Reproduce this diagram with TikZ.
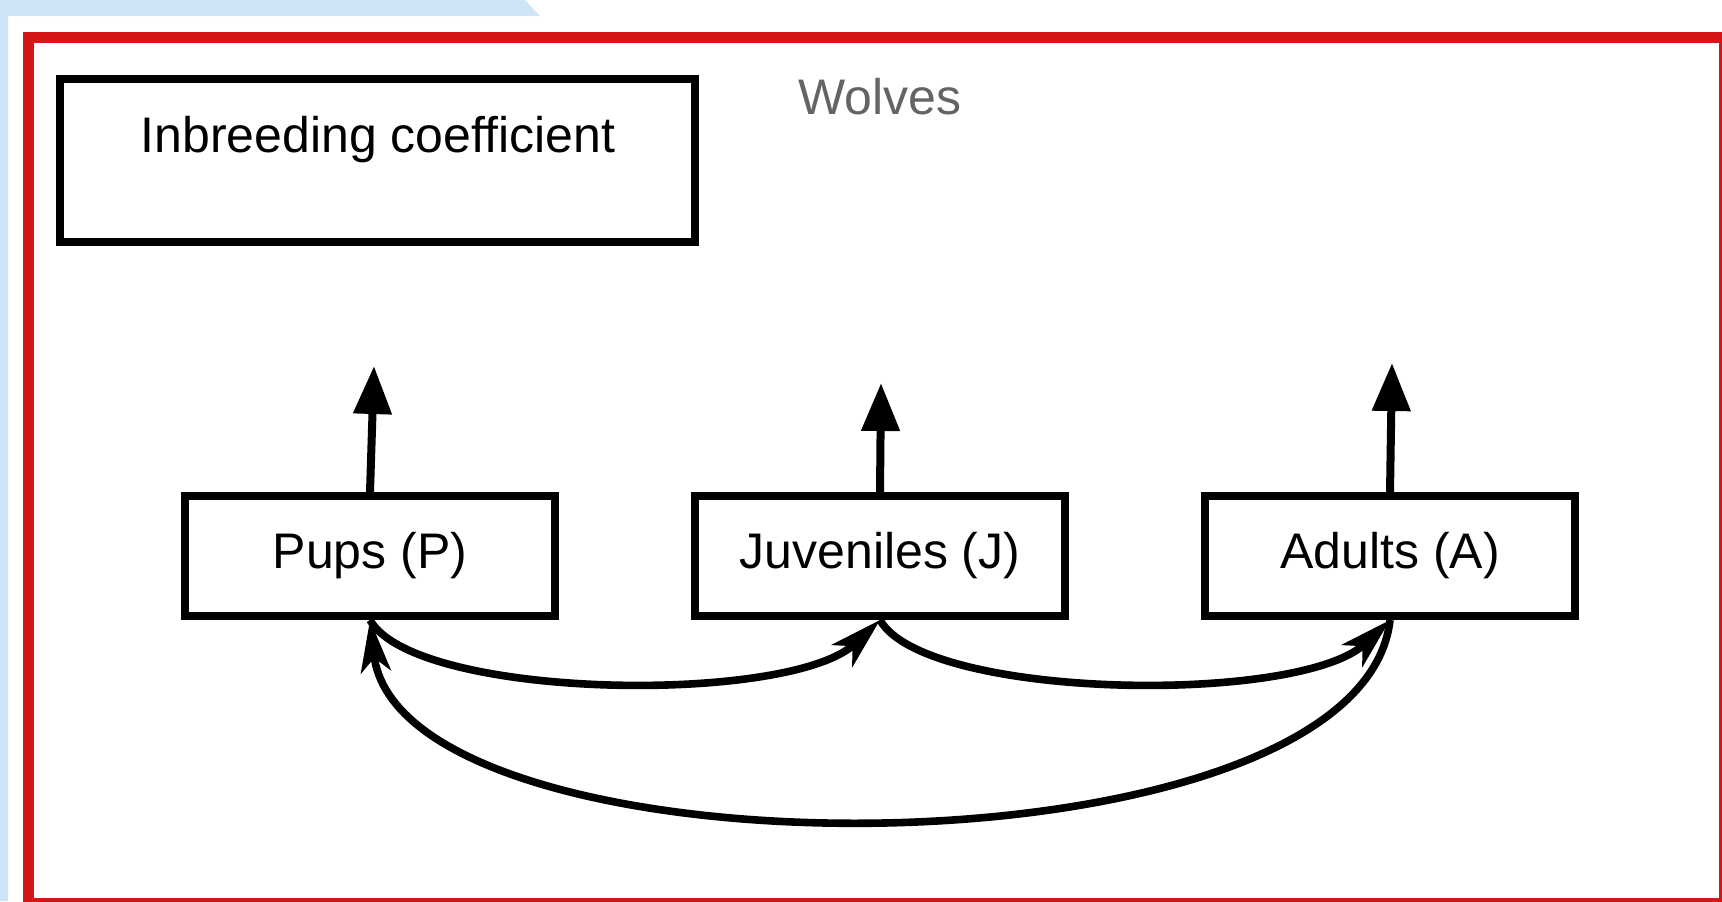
\documentclass[tikz,border=0pt]{standalone}
\usepackage{fontspec}
\setmainfont{Liberation Sans}
\usetikzlibrary{arrows.meta}
\definecolor{framered}{RGB}{212,22,22}
\definecolor{bgblue}{RGB}{206,228,247}
\definecolor{wolfgray}{RGB}{100,100,100}
\begin{document}
\begin{tikzpicture}[x=0.5pt,y=-0.5pt,
  box/.style={draw=black, line width=4pt, fill=white, minimum width=185pt, minimum height=60pt, inner sep=0pt, font=\fontsize{25}{30}\selectfont},
  uparrow/.style={line width=4pt, -{Triangle[width=18.5pt,length=24pt]}},
  flow/.style={line width=3.8pt, -{Stealth[width=15pt,length=26pt,inset=7pt]}}]
\useasboundingbox (0,0) rectangle (1722,901);
\fill[bgblue] (0,0) -- (525,0) -- (540,16) -- (8,16) -- (8,901) -- (0,901) -- cycle;
\draw[framered, line width=5.5pt] (28,37) rectangle (1724,903);
% inbreeding box
\node[box, minimum width=317.5pt, minimum height=81.5pt] (ib) at (377.5,160.5) {};
\node[font=\fontsize{25}{30}\selectfont, inner sep=0pt] (ibt) at (378,140) {Inbreeding coefficient};
\node[font=\fontsize{25}{30}\selectfont, text=wolfgray, inner sep=0pt] (wolves) at (880,97) {Wolves};
% stage boxes
\node[box] (p) at (370,556) {Pups (P)};
\node[box] (j) at (880,556) {Juveniles (J)};
\node[box] (a) at (1390,556) {Adults (A)};
% up arrows
\coordinate (pt) at (374,366);
\coordinate (jt) at (881,383);
\coordinate (at) at (1392,363);
\draw[uparrow] (p.north) -- (pt);
\draw[uparrow] (j.north) -- (jt);
\draw[uparrow] (a.north) -- (at);
% transitions
\draw[flow] (p.south) .. controls (415,700) and (790,705) .. (j.south);
\draw[flow] (j.south) .. controls (925,700) and (1300,705) .. (a.south);
\draw[flow] (a.south) .. controls (1360,885) and (400,885) .. (p.south);
\end{tikzpicture}
\end{document}
